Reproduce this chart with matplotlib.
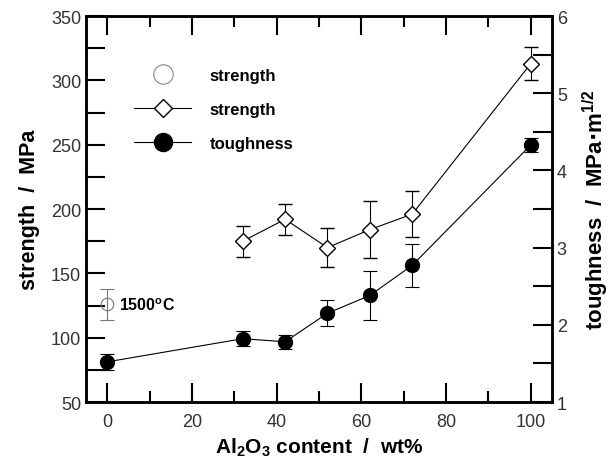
import matplotlib.pyplot as plt
from matplotlib.lines import Line2D
from matplotlib.ticker import MultipleLocator

plt.rcParams['font.family'] = ['Liberation Sans', 'DejaVu Sans']

# Al2O3 content (wt%)
x_str = [32, 42, 52, 62, 72, 100]
strength = [175, 192, 170, 184, 196, 313]
strength_err = [12, 12, 15, 22, 18, 13]

x_tough = [0, 32, 42, 52, 62, 72, 100]
toughness = [1.52, 1.82, 1.78, 2.15, 2.38, 2.77, 4.33]
toughness_err = [0.10, 0.10, 0.09, 0.17, 0.32, 0.28, 0.09]

# strength at 1500 C
x_hot = [0]
strength_hot = [126]
strength_hot_err = [12]

fig = plt.figure(figsize=(6.11, 4.6), dpi=100)
ax = fig.add_axes([0.1408, 0.1239, 0.7626, 0.8391])
ax2 = ax.twinx()

ax.errorbar(x_str, strength, yerr=strength_err, color='black', lw=0.8,
            marker='D', markersize=8, mfc='white', mec='black', mew=1.0,
            elinewidth=0.8, capsize=5, capthick=0.8, zorder=3)
ax.errorbar(x_hot, strength_hot, yerr=strength_hot_err, fmt='o', color='#777777',
            markersize=9, mfc='none', mec='#777777', mew=0.8,
            elinewidth=0.8, capsize=5, capthick=0.8)
ax2.errorbar(x_tough, toughness, yerr=toughness_err, color='black', lw=0.8,
             marker='o', markersize=10, mfc='black', mec='black',
             elinewidth=0.8, capsize=5, capthick=0.8)

ax.set_xlim(-5, 105)
ax.set_ylim(50, 350)
ax2.set_ylim(1, 6)

ax.xaxis.set_major_locator(MultipleLocator(20))
ax.xaxis.set_minor_locator(MultipleLocator(10))
ax.yaxis.set_major_locator(MultipleLocator(50))
ax.yaxis.set_minor_locator(MultipleLocator(25))
ax2.yaxis.set_major_locator(MultipleLocator(1))
ax2.yaxis.set_minor_locator(MultipleLocator(0.5))

ax.tick_params(axis='x', which='both', direction='in', top=True, length=14, width=1.5,
               labelsize=13, pad=8, colors='black', labelcolor='#333333')
ax.tick_params(axis='x', which='minor', length=8)
ax.tick_params(axis='y', which='both', direction='in', length=14, width=1.5,
               labelsize=13, labelcolor='#333333')
ax.tick_params(axis='y', which='minor', length=14)
ax2.tick_params(axis='y', which='both', direction='in', length=14, width=1.5,
                labelsize=13, labelcolor='#333333')

for a in (ax, ax2):
    for s in a.spines.values():
        s.set_linewidth(1.8)

ax.set_xlabel('Al$_\\mathregular{2}$O$_\\mathregular{3}$ content  /  wt%', fontsize=15,
              fontweight='bold', labelpad=4)
ax.set_ylabel('strength  /  MPa', fontsize=15.5, fontweight='bold', labelpad=8)
ax2.set_ylabel('toughness  /  MPa$\\mathbf{\\cdot}$m$^{\\mathregular{1/2}}$', fontsize=16,
               fontweight='bold', labelpad=10)

ax.text(2.8, 126, '1500$^\\mathregular{o}$C', fontsize=11.5, fontweight='bold',
        va='center', ha='left')

handles = [
    Line2D([], [], ls='none', marker='o', markersize=14, mfc='none',
           mec='#888888', mew=0.8),
    Line2D([], [], color='black', lw=0.8, marker='D', markersize=9,
           mfc='white', mec='black', mew=1.0),
    Line2D([], [], color='black', lw=0.8, marker='o', markersize=13,
           mfc='black', mec='black'),
]
leg = ax.legend(handles, ['strength', 'strength', 'toughness'], loc='upper left',
                bbox_to_anchor=(0.075, 0.9), frameon=False, handlelength=3.4,
                handletextpad=1.1, labelspacing=1.15, borderpad=0.3,
                prop={'size': 12, 'weight': 'bold'})

fig.savefig('out.png', dpi=100)
